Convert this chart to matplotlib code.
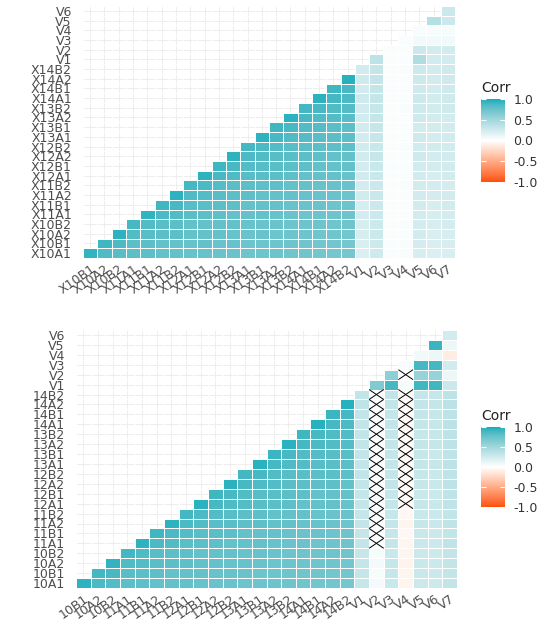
import numpy as np
import matplotlib
matplotlib.use("Agg")
import matplotlib.pyplot as plt
from matplotlib.colors import ListedColormap, Normalize, to_rgb
from matplotlib.collections import LineCollection
import matplotlib.colorbar as mcolorbar

# ---------------- data ----------------
items = ["10A1", "10B1", "10A2", "10B2", "11A1", "11B1", "11A2", "11B2",
         "12A1", "12B1", "12A2", "12B2", "13A1", "13B1", "13A2", "13B2",
         "14A1", "14B1", "14A2", "14B2"]
v_vars = ["V1", "V2", "V3", "V4", "V5", "V6", "V7"]

top_labels = ["X" + s for s in items] + v_vars
bottom_labels = items + v_vars

# item-item correlations (upper triangle rows), top chart
top_xx = [
    [0.93, 0.85, 0.82, 0.80, 0.79, 0.78, 0.77, 0.76, 0.76, 0.75, 0.75, 0.74, 0.74, 0.73, 0.72, 0.72, 0.71, 0.70, 0.70],
    [0.90, 0.86, 0.80, 0.80, 0.78, 0.78, 0.76, 0.77, 0.75, 0.76, 0.74, 0.74, 0.73, 0.73, 0.72, 0.71, 0.71, 0.70],
    [0.94, 0.84, 0.82, 0.80, 0.79, 0.78, 0.77, 0.77, 0.76, 0.75, 0.75, 0.74, 0.73, 0.73, 0.72, 0.72, 0.71],
    [0.88, 0.84, 0.81, 0.80, 0.78, 0.78, 0.77, 0.77, 0.76, 0.75, 0.75, 0.74, 0.73, 0.73, 0.72, 0.72],
    [0.93, 0.86, 0.84, 0.81, 0.80, 0.79, 0.78, 0.77, 0.77, 0.76, 0.75, 0.74, 0.74, 0.73, 0.73],
    [0.90, 0.87, 0.82, 0.81, 0.80, 0.79, 0.78, 0.78, 0.77, 0.76, 0.75, 0.75, 0.74, 0.74],
    [0.94, 0.85, 0.83, 0.82, 0.80, 0.79, 0.78, 0.78, 0.77, 0.76, 0.75, 0.75, 0.74],
    [0.88, 0.86, 0.83, 0.81, 0.80, 0.79, 0.79, 0.78, 0.77, 0.76, 0.76, 0.75],
    [0.94, 0.87, 0.85, 0.82, 0.81, 0.80, 0.79, 0.78, 0.77, 0.77, 0.76],
    [0.90, 0.87, 0.83, 0.82, 0.81, 0.80, 0.79, 0.78, 0.77, 0.77],
    [0.94, 0.86, 0.84, 0.82, 0.81, 0.80, 0.79, 0.78, 0.78],
    [0.88, 0.86, 0.83, 0.82, 0.81, 0.80, 0.79, 0.79],
    [0.94, 0.87, 0.85, 0.83, 0.82, 0.81, 0.80],
    [0.90, 0.87, 0.84, 0.83, 0.81, 0.80],
    [0.95, 0.87, 0.85, 0.83, 0.82],
    [0.89, 0.87, 0.84, 0.83],
    [0.95, 0.88, 0.86],
    [0.90, 0.87],
    [0.96],
]
# item-V correlations (rows = items, cols = V1..V7), top chart
top_xv = [
    [0.20, 0.26, 0.03, 0.04, 0.22, 0.20, 0.21],
    [0.21, 0.27, 0.03, 0.04, 0.23, 0.21, 0.22],
    [0.22, 0.28, 0.02, 0.03, 0.24, 0.21, 0.22],
    [0.22, 0.27, 0.03, 0.04, 0.23, 0.22, 0.23],
    [0.23, 0.28, 0.02, 0.03, 0.24, 0.22, 0.23],
    [0.22, 0.28, 0.03, 0.03, 0.24, 0.22, 0.24],
    [0.24, 0.29, 0.02, 0.03, 0.25, 0.23, 0.24],
    [0.23, 0.28, 0.02, 0.04, 0.24, 0.23, 0.23],
    [0.24, 0.29, 0.02, 0.03, 0.25, 0.22, 0.24],
    [0.23, 0.29, 0.03, 0.03, 0.25, 0.23, 0.24],
    [0.25, 0.30, 0.02, 0.03, 0.26, 0.23, 0.25],
    [0.24, 0.29, 0.02, 0.04, 0.25, 0.24, 0.24],
    [0.25, 0.30, 0.02, 0.03, 0.26, 0.23, 0.25],
    [0.24, 0.30, 0.03, 0.03, 0.25, 0.24, 0.25],
    [0.25, 0.31, 0.02, 0.03, 0.26, 0.24, 0.25],
    [0.25, 0.30, 0.02, 0.04, 0.26, 0.24, 0.26],
    [0.26, 0.31, 0.02, 0.03, 0.27, 0.24, 0.26],
    [0.25, 0.31, 0.03, 0.03, 0.26, 0.25, 0.26],
    [0.26, 0.32, 0.02, 0.03, 0.27, 0.25, 0.26],
    [0.25, 0.31, 0.02, 0.04, 0.27, 0.25, 0.26],
]
# V-V correlations (upper triangle rows), top chart
top_vv = [
    [0.35, 0.02, 0.03, 0.42, 0.25, 0.25],
    [0.02, 0.02, 0.28, 0.24, 0.24],
    [0.03, 0.08, 0.07, 0.08],
    [0.04, 0.05, 0.05],
    [0.40, 0.28],
    [0.28],
]

bottom_xx = [
    [0.94, 0.86, 0.83, 0.80, 0.79, 0.78, 0.77, 0.77, 0.76, 0.75, 0.75, 0.74, 0.73, 0.73, 0.72, 0.72, 0.71, 0.71, 0.70],
    [0.89, 0.87, 0.81, 0.80, 0.79, 0.78, 0.77, 0.77, 0.76, 0.76, 0.75, 0.74, 0.74, 0.73, 0.72, 0.72, 0.71, 0.71],
    [0.93, 0.85, 0.83, 0.81, 0.80, 0.79, 0.78, 0.77, 0.76, 0.76, 0.75, 0.74, 0.74, 0.73, 0.72, 0.72, 0.71],
    [0.89, 0.85, 0.82, 0.80, 0.79, 0.78, 0.78, 0.77, 0.76, 0.76, 0.75, 0.74, 0.74, 0.73, 0.73, 0.72],
    [0.94, 0.86, 0.84, 0.81, 0.80, 0.79, 0.78, 0.78, 0.77, 0.76, 0.75, 0.75, 0.74, 0.73, 0.73],
    [0.90, 0.86, 0.83, 0.81, 0.80, 0.79, 0.78, 0.77, 0.77, 0.76, 0.75, 0.75, 0.74, 0.73],
    [0.94, 0.86, 0.84, 0.82, 0.81, 0.79, 0.79, 0.78, 0.77, 0.76, 0.76, 0.75, 0.74],
    [0.89, 0.86, 0.83, 0.82, 0.80, 0.79, 0.78, 0.78, 0.77, 0.76, 0.75, 0.75],
    [0.95, 0.87, 0.85, 0.83, 0.81, 0.80, 0.79, 0.78, 0.78, 0.77, 0.76],
    [0.90, 0.87, 0.84, 0.82, 0.81, 0.80, 0.79, 0.78, 0.77, 0.77],
    [0.95, 0.87, 0.85, 0.83, 0.81, 0.80, 0.79, 0.79, 0.78],
    [0.89, 0.87, 0.84, 0.82, 0.81, 0.80, 0.80, 0.79],
    [0.95, 0.88, 0.85, 0.83, 0.82, 0.81, 0.80],
    [0.91, 0.87, 0.84, 0.83, 0.82, 0.81],
    [0.95, 0.88, 0.86, 0.84, 0.83],
    [0.90, 0.87, 0.85, 0.84],
    [0.96, 0.88, 0.86],
    [0.91, 0.88],
    [0.96],
]
bottom_xv = [
    [0.30, 0.06, 0.29, -0.06, 0.28, 0.27, 0.32],
    [0.31, 0.05, 0.30, -0.06, 0.29, 0.28, 0.33],
    [0.31, 0.06, 0.30, -0.07, 0.29, 0.28, 0.33],
    [0.30, 0.05, 0.29, -0.06, 0.28, 0.27, 0.32],
    [0.32, 0.03, 0.31, -0.06, 0.29, 0.28, 0.34],
    [0.31, 0.02, 0.30, -0.05, 0.29, 0.28, 0.33],
    [0.32, 0.03, 0.31, -0.06, 0.30, 0.29, 0.34],
    [0.31, 0.02, 0.30, -0.05, 0.29, 0.28, 0.33],
    [0.32, 0.03, 0.31, -0.03, 0.30, 0.29, 0.34],
    [0.31, 0.02, 0.30, -0.02, 0.29, 0.28, 0.34],
    [0.33, 0.03, 0.32, -0.03, 0.30, 0.29, 0.35],
    [0.32, 0.02, 0.31, -0.02, 0.30, 0.29, 0.34],
    [0.33, 0.03, 0.32, -0.03, 0.31, 0.30, 0.35],
    [0.32, 0.02, 0.31, -0.02, 0.30, 0.29, 0.34],
    [0.33, 0.03, 0.32, -0.03, 0.31, 0.30, 0.35],
    [0.32, 0.02, 0.31, -0.02, 0.30, 0.30, 0.35],
    [0.33, 0.03, 0.32, -0.03, 0.31, 0.30, 0.36],
    [0.32, 0.02, 0.31, -0.02, 0.31, 0.30, 0.35],
    [0.34, 0.03, 0.33, -0.03, 0.32, 0.31, 0.36],
    [0.33, 0.02, 0.32, -0.02, 0.31, 0.30, 0.35],
]
bottom_vv = [
    [0.65, 0.88, 0.05, 0.90, 0.90, 0.28],
    [0.60, 0.01, 0.55, 0.55, 0.10],
    [0.04, 0.88, 0.88, 0.25],
    [0.08, 0.10, -0.12],
    [0.92, 0.10],
    [0.25],
]
# non-significant pairs in the bottom chart (column variable -> row variables)
bottom_insig = {
    "V2": ["11A1", "11B1", "11A2", "11B2", "12A1", "12B1", "12A2", "12B2",
           "13A1", "13B1", "13A2", "13B2", "14A1", "14B1", "14A2", "14B2"],
    "V4": ["12A1", "12B1", "12A2", "12B2", "13A1", "13B1", "13A2", "13B2",
           "14A1", "14B1", "14A2", "14B2", "V2"],
}
legend_ticks = [-1.0, -0.5, 0.0, 0.5, 1.0]
palette = ["#FC4E07", "#FFFFFF", "#00AFBB"]

# ---------------- colour scale (Lab interpolation like ggplot) ----------------
_M = np.array([[0.4124, 0.3576, 0.1805],
               [0.2126, 0.7152, 0.0722],
               [0.0193, 0.1192, 0.9505]])
_WP = np.array([0.95047, 1.0, 1.08883])


def rgb2lab(c):
    c = np.asarray(c, float)
    lin = np.where(c <= 0.04045, c / 12.92, ((c + 0.055) / 1.055) ** 2.4)
    xyz = _M @ lin / _WP
    f = np.where(xyz > 0.008856, np.cbrt(xyz), 7.787 * xyz + 16 / 116)
    return np.array([116 * f[1] - 16, 500 * (f[0] - f[1]), 200 * (f[1] - f[2])])


def lab2rgb(lab):
    L, a, b = lab
    fy = (L + 16) / 116
    fx = fy + a / 500
    fz = fy - b / 200
    f = np.array([fx, fy, fz])
    xyz = np.where(f ** 3 > 0.008856, f ** 3, (f - 16 / 116) / 7.787) * _WP
    lin = np.linalg.solve(_M, xyz)
    lin = np.clip(lin, 0, 1)
    c = np.where(lin <= 0.0031308, 12.92 * lin, 1.055 * lin ** (1 / 2.4) - 0.055)
    return np.clip(c, 0, 1)


labs = [rgb2lab(to_rgb(p)) for p in palette]
cols = []
for t in np.linspace(-1, 1, 257):
    if t < 0:
        u = t + 1
        lab = labs[0] * (1 - u) + labs[1] * u
    else:
        lab = labs[1] * (1 - t) + labs[2] * t
    cols.append(lab2rgb(lab))
cmap = ListedColormap(cols)
norm = Normalize(-1, 1)

# ---------------- helpers ----------------
W, H = 543, 620
TEXT_GREY = "#4D4D4D"


def build(xx, xv, vv):
    nx = len(items)
    n = nx + len(v_vars)
    M = np.full((n, n), np.nan)
    for i, row in enumerate(xx):
        for k, val in enumerate(row):
            M[i, i + 1 + k] = val
    for i, row in enumerate(xv):
        for k, val in enumerate(row):
            M[i, nx + k] = val
    for i, row in enumerate(vv):
        for k, val in enumerate(row):
            M[nx + i, nx + i + 1 + k] = val
    return M


def px_axes(fig, x0, x1, y0, y1):
    return fig.add_axes([x0 / W, 1 - y1 / H, (x1 - x0) / W, (y1 - y0) / H])


def draw_panel(ax, M, labels, ypad, insig=None):
    n = len(labels)
    Z = M[: n - 1, 1:]
    Zm = np.ma.masked_invalid(Z)
    edges = np.arange(n) - 0.5
    ax.set_axisbelow(True)
    ax.set_xticks(np.arange(n - 1))
    ax.set_yticks(np.arange(n - 1))
    ax.grid(True, color="#EBEBEB", linewidth=0.6)
    ax.pcolormesh(edges, edges, Zm, cmap=cmap, norm=norm,
                  edgecolors="white", linewidth=0.7)
    ax.set_xlim(-0.5, n - 1.5)
    ax.set_ylim(-0.5, n - 1.5)
    for s in ax.spines.values():
        s.set_visible(False)
    ax.set_yticklabels(labels[: n - 1], fontsize=9, color=TEXT_GREY)
    ax.set_xticklabels(labels[1:], fontsize=9, color=TEXT_GREY,
                       rotation=35, ha="right", va="top",
                       rotation_mode="anchor")
    ax.tick_params(axis="y", length=0, pad=ypad)
    ax.tick_params(axis="x", length=0, pad=3)
    if insig:
        segs = []
        for col, rows in insig.items():
            c = labels.index(col) - 1
            for rv in rows:
                r = labels.index(rv)
                segs.append([(c - 0.5, r - 0.5), (c + 0.5, r + 0.5)])
                segs.append([(c - 0.5, r + 0.5), (c + 0.5, r - 0.5)])
        ax.add_collection(LineCollection(segs, colors="black", linewidths=0.7))


def draw_legend(fig, bar_top, bar_bot, title_y):
    cax = px_axes(fig, 481, 505, bar_top, bar_bot)
    cb = mcolorbar.ColorbarBase(cax, cmap=cmap, norm=norm, orientation="vertical")
    cb.outline.set_visible(False)
    cb.set_ticks(legend_ticks)
    cb.set_ticklabels([f"{t:.1f}" for t in legend_ticks])
    cax.tick_params(length=0, pad=6, labelsize=9, labelcolor="#333333")
    cax.hlines(legend_ticks, 0, 0.2, color="white", linewidth=0.8)
    cax.hlines(legend_ticks, 0.8, 1.0, color="white", linewidth=0.8)
    fig.text(481 / W, 1 - title_y / H, "Corr", fontsize=10, color="#222222",
             ha="left", va="center")


# ---------------- figure ----------------
fig = plt.figure(figsize=(W / 100, H / 100), dpi=100)
fig.patch.set_facecolor("white")

ax1 = px_axes(fig, 83, 455, 6, 258)
draw_panel(ax1, build(top_xx, top_xv, top_vv), top_labels, ypad=8)
draw_legend(fig, 99, 182, 88)

ax2 = px_axes(fig, 76, 457, 330, 588)
draw_panel(ax2, build(bottom_xx, bottom_xv, bottom_vv), bottom_labels, ypad=8,
           insig=bottom_insig)
draw_legend(fig, 427, 507, 416)

fig.savefig("out.png", dpi=100, facecolor="white")
